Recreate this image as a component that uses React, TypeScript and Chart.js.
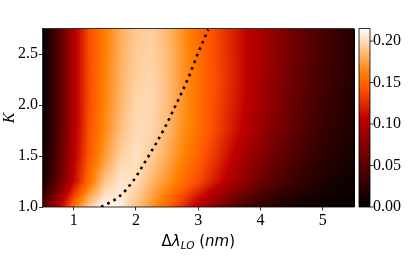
import React, { useEffect, useRef } from "react";
import { Chart, registerables } from "chart.js";
Chart.register(...registerables);

// Grid of Δλ_LO (nm) columns and K rows
const xGrid = [0.5, 0.75, 1.0, 1.25, 1.5, 1.75, 2.0, 2.25, 2.5, 2.75, 3.0, 3.25, 3.5, 3.75, 4.0, 4.25, 4.5, 4.75, 5.0, 5.25, 5.5];
const kGrid = [1.0, 1.25, 1.5, 1.75, 2.0, 2.25, 2.5, 2.75];

// Heat values per K row
const heatK100 = [0.045, 0.1, 0.155, 0.195, 0.213, 0.208, 0.19, 0.17, 0.15, 0.128, 0.1, 0.078, 0.055, 0.038, 0.025, 0.017, 0.012, 0.008, 0.005, 0.003, 0.002];
const heatK125 = [0.012, 0.055, 0.11, 0.155, 0.19, 0.205, 0.2, 0.185, 0.17, 0.155, 0.14, 0.12, 0.1, 0.08, 0.062, 0.048, 0.036, 0.026, 0.018, 0.012, 0.008];
const heatK150 = [0.006, 0.048, 0.103, 0.145, 0.172, 0.195, 0.203, 0.194, 0.18, 0.163, 0.149, 0.132, 0.113, 0.094, 0.076, 0.06, 0.047, 0.035, 0.026, 0.019, 0.013];
const heatK175 = [0.004, 0.046, 0.1, 0.142, 0.166, 0.188, 0.2, 0.198, 0.185, 0.168, 0.155, 0.14, 0.122, 0.104, 0.087, 0.07, 0.056, 0.043, 0.032, 0.024, 0.017];
const heatK200 = [0.003, 0.045, 0.1, 0.14, 0.163, 0.184, 0.198, 0.199, 0.187, 0.17, 0.155, 0.141, 0.125, 0.108, 0.091, 0.075, 0.06, 0.047, 0.036, 0.027, 0.019];
const heatK225 = [0.003, 0.045, 0.1, 0.14, 0.162, 0.182, 0.195, 0.198, 0.188, 0.17, 0.155, 0.142, 0.127, 0.11, 0.094, 0.078, 0.063, 0.05, 0.039, 0.029, 0.021];
const heatK250 = [0.003, 0.045, 0.1, 0.14, 0.161, 0.181, 0.193, 0.196, 0.187, 0.17, 0.154, 0.141, 0.126, 0.11, 0.095, 0.079, 0.065, 0.051, 0.04, 0.03, 0.021];
const heatK275 = [0.003, 0.045, 0.1, 0.14, 0.16, 0.18, 0.192, 0.195, 0.185, 0.168, 0.152, 0.14, 0.125, 0.11, 0.095, 0.08, 0.066, 0.052, 0.04, 0.03, 0.02];
const heatRows = [heatK100, heatK125, heatK150, heatK175, heatK200, heatK225, heatK250, heatK275];

// Dotted curve
const curveDeltaLambda = [1.44, 1.74, 1.955, 2.13, 2.3, 2.46, 2.6, 2.74, 2.87, 2.99, 3.16];
const curveK = [1.0, 1.107, 1.256, 1.425, 1.6, 1.775, 1.95, 2.13, 2.31, 2.5, 2.74];

// Axis ticks
const xTicks = [1, 2, 3, 4, 5];
const yTicks = [1.0, 1.5, 2.0, 2.5];
const cbTicks = [0.0, 0.05, 0.1, 0.15, 0.2];
const cbMin = 0;
const cbMax = 0.215;
const xMin = 0.5, xMax = 5.5, kMin = 1.0, kMax = 2.75;

function gistHeat(v: number): [number, number, number] {
  let t = (v - cbMin) / (cbMax - cbMin);
  t = Math.max(0, Math.min(1, t));
  const c = (a: number) => Math.max(0, Math.min(1, a));
  return [c(1.5 * t) * 255, c(2 * t - 1) * 255, c(4 * t - 3) * 255];
}

function findIdx(arr: number[], v: number): [number, number, number] {
  if (v <= arr[0]) return [0, 0, 0];
  const n = arr.length;
  if (v >= arr[n - 1]) return [n - 1, n - 1, 0];
  for (let i = 0; i < n - 1; i++) {
    if (v >= arr[i] && v <= arr[i + 1]) return [i, i + 1, (v - arr[i]) / (arr[i + 1] - arr[i])];
  }
  return [n - 1, n - 1, 0];
}

function sample(xv: number, k: number): number {
  const [i0, i1, tx] = findIdx(xGrid, xv);
  const [j0, j1, ty] = findIdx(kGrid, k);
  const a = heatRows[j0][i0] * (1 - tx) + heatRows[j0][i1] * tx;
  const b = heatRows[j1][i0] * (1 - tx) + heatRows[j1][i1] * tx;
  return a * (1 - ty) + b * ty;
}

const heatmapPlugin = {
  id: "heatmap",
  beforeDraw(chart: any) {
    const { ctx, chartArea, scales } = chart;
    const { left, top, right, bottom } = chartArea;
    const w = Math.round(right - left);
    const h = Math.round(bottom - top);
    const off = document.createElement("canvas");
    off.width = w;
    off.height = h;
    const octx = off.getContext("2d")!;
    const img = octx.createImageData(w, h);
    for (let py = 0; py < h; py++) {
      const k = scales.y.getValueForPixel(top + py + 0.5);
      for (let px = 0; px < w; px++) {
        const xv = scales.x.getValueForPixel(left + px + 0.5);
        const [r, g, b] = gistHeat(sample(xv, k));
        const o = (py * w + px) * 4;
        img.data[o] = r;
        img.data[o + 1] = g;
        img.data[o + 2] = b;
        img.data[o + 3] = 255;
      }
    }
    octx.putImageData(img, 0, 0);
    ctx.save();
    ctx.drawImage(off, left, top);
    ctx.restore();
  },
  afterDraw(chart: any) {
    const { ctx, chartArea, scales } = chart;
    const { left, top, right, bottom } = chartArea;
    ctx.save();
    // spines
    ctx.strokeStyle = "#000";
    ctx.lineWidth = 0.8;
    ctx.strokeRect(left, top, right - left, bottom - top);

    // colorbar
    const cb = scales.cb;
    const cbX = right + 5;
    const cbW = 11;
    const cbTop = cb.getPixelForValue(cbMax);
    const cbBot = cb.getPixelForValue(cbMin);
    for (let py = Math.floor(cbTop); py < Math.ceil(cbBot); py++) {
      const v = cb.getValueForPixel(py + 0.5);
      const [r, g, b] = gistHeat(v);
      ctx.fillStyle = `rgb(${r},${g},${b})`;
      ctx.fillRect(cbX, py, cbW, 1);
    }
    ctx.strokeRect(cbX, cbTop, cbW, cbBot - cbTop);
    ctx.beginPath();
    for (const t of cbTicks) {
      const yy = cb.getPixelForValue(t);
      ctx.moveTo(cbX + cbW, yy);
      ctx.lineTo(cbX + cbW + 3.5, yy);
    }
    ctx.stroke();

    // x-axis title: Δλ_LO (nm)
    const base = 246;
    const fam = "'DejaVu Sans'";
    const parts: [string, string, number][] = [
      ["Δ", `15px ${fam}`, 0],
      ["λ", `italic 15px ${fam}`, 0],
      ["LO", `italic 10.5px ${fam}`, 3],
      [" (", `15px ${fam}`, 0],
      ["nm", `italic 15px ${fam}`, 0],
      [")", `15px ${fam}`, 0],
    ];
    let total = 0;
    const widths: number[] = [];
    for (const [s, f] of parts) {
      ctx.font = f;
      const wd = ctx.measureText(s).width;
      widths.push(wd);
      total += wd;
    }
    let xx = (left + right) / 2 - total / 2;
    ctx.fillStyle = "#000";
    ctx.textBaseline = "alphabetic";
    ctx.textAlign = "left";
    parts.forEach(([s, f, dy], i) => {
      ctx.font = f;
      ctx.fillText(s, xx, base + dy);
      xx += widths[i];
    });
    ctx.restore();
  },
};

const tickFont = { family: "'Liberation Serif', serif", size: 16 };

export default function App() {
  const ref = useRef<HTMLCanvasElement>(null);
  useEffect(() => {
    const canvas = ref.current!;
    const points = curveDeltaLambda.map((x, i) => ({ x, y: curveK[i] }));
    const chart = new Chart(canvas, {
      type: "scatter",
      data: {
        datasets: [
          {
            data: points,
            showLine: true,
            borderColor: "#000",
            borderWidth: 2.6,
            borderDash: [2.6, 4.4],
            pointRadius: 0,
            tension: 0.4,
            cubicInterpolationMode: "monotone",
            xAxisID: "x",
            yAxisID: "y",
          },
        ],
      },
      options: {
        animation: false,
        responsive: false,
        devicePixelRatio: 1,
        layout: { padding: 0 },
        plugins: { legend: { display: false }, tooltip: { enabled: false } },
        scales: {
          x: {
            type: "linear",
            position: "bottom",
            min: xMin,
            max: xMax,
            afterBuildTicks: (s: any) => { s.ticks = xTicks.map((v) => ({ value: v })); },
            afterFit: (s: any) => { s.height = 52; },
            grid: { display: true, drawOnChartArea: false, drawTicks: true, tickLength: 3.5, color: "#000", lineWidth: 0.8 },
            border: { display: false },
            ticks: { color: "#000", font: tickFont, padding: 1, maxRotation: 0, callback: (v: any) => String(v) },
          },
          y: {
            type: "linear",
            position: "left",
            min: kMin,
            max: kMax,
            afterBuildTicks: (s: any) => { s.ticks = yTicks.map((v) => ({ value: v })); },
            afterFit: (s: any) => { s.width = 42.5; },
            grid: { display: true, drawOnChartArea: false, drawTicks: true, tickLength: 3.5, color: "#000", lineWidth: 0.8 },
            border: { display: false },
            ticks: { color: "#000", font: tickFont, padding: 1, callback: (v: any) => Number(v).toFixed(1) },
            title: { display: true, text: "K", color: "#000", font: { family: "'Liberation Serif', serif", size: 16, style: "italic" }, padding: { top: 0, bottom: 0 } },
          },
          cb: {
            type: "linear",
            position: "right",
            min: cbMin,
            max: cbMax,
            afterBuildTicks: (s: any) => { s.ticks = cbTicks.map((v) => ({ value: v })); },
            afterFit: (s: any) => { s.width = 61; },
            grid: { display: false, drawTicks: false },
            border: { display: false },
            ticks: { color: "#000", font: tickFont, padding: 19, callback: (v: any) => Number(v).toFixed(2) },
          },
        },
      },
      plugins: [heatmapPlugin],
    } as any);
    return () => chart.destroy();
  }, []);
  return (
    <div style={{ position: "fixed", left: 0, top: 0, width: 415, height: 259 }}>
      <canvas ref={ref} width={415} height={259} />
    </div>
  );
}
